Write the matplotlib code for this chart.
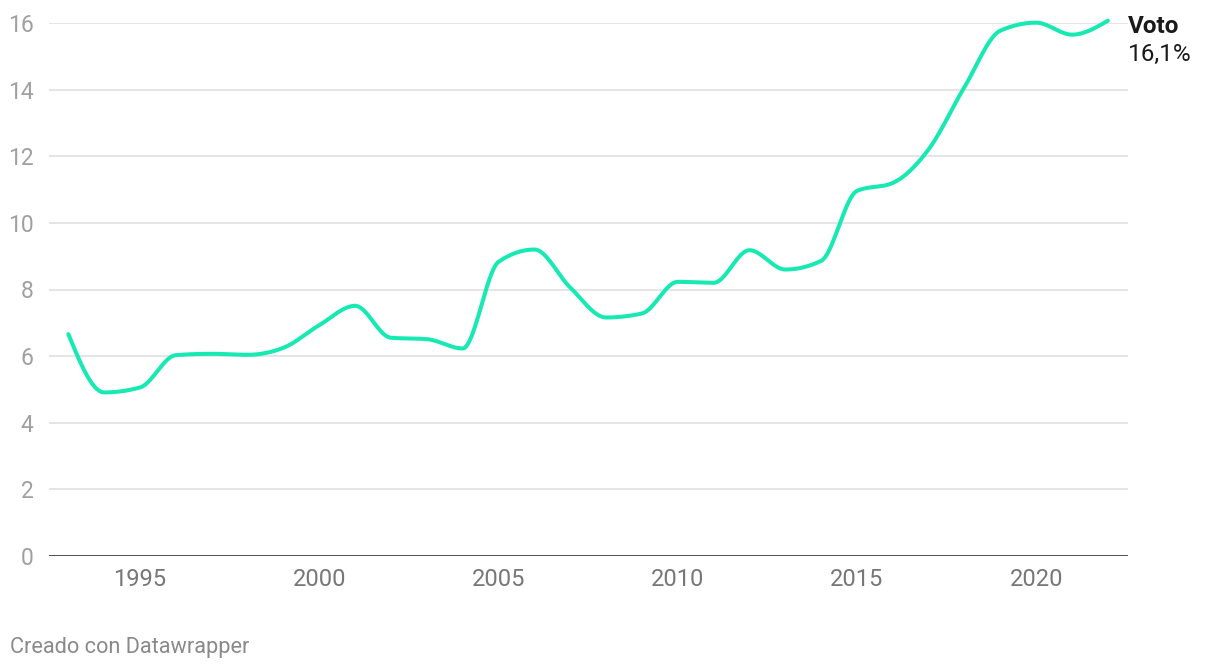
import numpy as np
import matplotlib
matplotlib.use("Agg")
import matplotlib.pyplot as plt

plt.rcParams['font.family'] = ['Roboto', 'DejaVu Sans']

years = list(range(1993, 2023))
voto = [6.66, 4.91, 5.06, 6.03, 6.07, 6.04, 6.25, 6.93, 7.51, 6.55,
        6.51, 6.23, 8.83, 9.20, 8.06, 7.16, 7.28, 8.23, 8.20, 9.18,
        8.60, 8.86, 10.96, 11.20, 12.21, 14.08, 15.77, 16.01, 15.65, 16.07]
series_name = "Voto"
last_label = "16,1%"
y_ticks = [0, 2, 4, 6, 8, 10, 12, 14, 16]
x_ticks = [1995, 2000, 2005, 2010, 2015, 2020]
footer = "Creado con Datawrapper"

LINE = '#17e9b3'


def monotone_curve(x, y, n=40):
    # d3 curveMonotoneX style rendering of the yearly values
    x = np.asarray(x, float); y = np.asarray(y, float)
    h = np.diff(x); s = np.diff(y) / h
    m = np.zeros_like(y)
    for i in range(1, len(y) - 1):
        h0, h1, s0, s1 = h[i-1], h[i], s[i-1], s[i]
        p = (s0 * h1 + s1 * h0) / (h0 + h1)
        m[i] = (np.sign(s0) + np.sign(s1)) * min(abs(s0), abs(s1), 0.5 * abs(p))
    m[0] = (3 * s[0] - m[1]) / 2
    m[-1] = (3 * s[-1] - m[-2]) / 2
    xs, ys = [], []
    for i in range(len(h)):
        t = np.linspace(0, 1, n, endpoint=(i == len(h) - 1))
        h00 = 2*t**3 - 3*t**2 + 1
        h10 = t**3 - 2*t**2 + t
        h01 = -2*t**3 + 3*t**2
        h11 = t**3 - t**2
        xs.append(x[i] + t * h[i])
        ys.append(h00*y[i] + h10*h[i]*m[i] + h01*y[i+1] + h11*h[i]*m[i+1])
    return np.concatenate(xs), np.concatenate(ys)


fig = plt.figure(figsize=(12.2, 6.72), dpi=100)
ax = fig.add_axes([49/1220, 1 - 556/672, (1128 - 49)/1220, (556 - 23)/672])

ax.set_xlim(1992.46, 2022.56)
ax.set_ylim(0, 16)

for v in y_ticks[1:]:
    ax.axhline(v, color='#e3e3e3', lw=1.3, zorder=1)
ax.axhline(0, color='#1a1a1a', lw=1.8, zorder=3)

cx, cy = monotone_curve(years, voto)
ax.plot(cx, cy, color=LINE, lw=2.9, solid_capstyle='round', zorder=4, clip_on=False)

for sp in ax.spines.values():
    sp.set_visible(False)
ax.set_yticks(y_ticks)
ax.set_yticklabels([str(v) for v in y_ticks])
ax.set_xticks(x_ticks)
ax.set_xticklabels([str(v) for v in x_ticks])
ax.tick_params(axis='y', length=0, pad=11, labelsize=16.5, labelcolor='#a0a0a0')
ax.tick_params(axis='x', length=0, pad=9, labelsize=17, labelcolor='#777777')

ax.annotate(series_name, xy=(years[-1], voto[-1]), xytext=(14.4, -4.3), textcoords='offset points',
            ha='left', va='center', fontsize=17.5, fontweight='bold', color='#1a1a1a',
            annotation_clip=False)
ax.annotate(last_label, xy=(years[-1], voto[-1]), xytext=(14.4, -24.5), textcoords='offset points',
            ha='left', va='center', fontsize=17.5, color='#1a1a1a', annotation_clip=False)

fig.text(10/1220, 1 - 648/672, footer, ha='left', va='center', fontsize=15.7, color='#8a8a8a')

fig.savefig('out.png', dpi=100, facecolor='white')
